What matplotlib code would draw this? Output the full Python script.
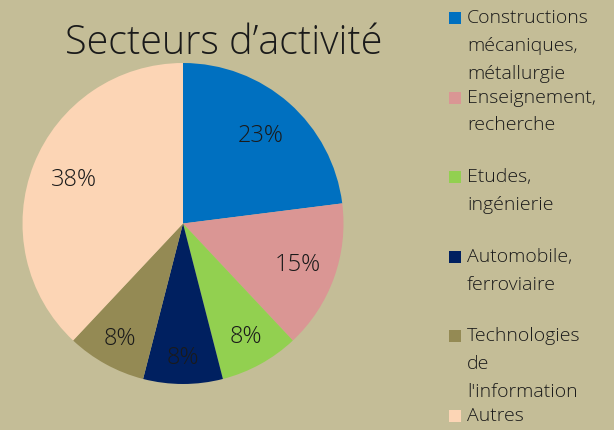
import matplotlib
matplotlib.use('Agg')
import numpy as np
import matplotlib.pyplot as plt
from matplotlib.patches import Rectangle

# Chart data
sectors = ['Constructions\nmécaniques,\nmétallurgie', 'Enseignement,\nrecherche',
           'Etudes,\ningénierie', 'Automobile,\nferroviaire',
           'Technologies\nde\nl\'information', 'Autres']
shares = [23, 15, 8, 8, 8, 38]
colors = ['#0070C0', '#DA9694', '#92D050', '#002060', '#948A54', '#FCD5B5']
title = 'Secteurs d\u2019activité'

# distance of each percent label from the centre (fraction of radius)
label_dist = [0.73, 0.76, 0.81, 0.84, 0.82, 0.73]

bg = '#C4BD97'
txt = '#1a1a1a'
plt.rcParams['font.family'] = ['Open Sans', 'DejaVu Sans']

fig = plt.figure(figsize=(6.14, 4.30), dpi=100)
fig.patch.set_facecolor(bg)

# pie axes: square box in pixels
W, H = 614, 430
cx, cy, r = 183, 223.5, 160.5
ax = fig.add_axes([(cx - r) / W, (H - cy - r) / H, 2 * r / W, 2 * r / H])
ax.set_facecolor(bg)
wedges, texts, autotexts = ax.pie(shares, colors=colors, startangle=90, counterclock=False,
                                  autopct='%d%%', pctdistance=0.75,
                                  wedgeprops=dict(linewidth=0),
                                  textprops=dict(fontsize=17, color=txt, fontweight='light'))
# move labels to their own distances
for w, t, d in zip(wedges, autotexts, label_dist):
    ang = np.deg2rad((w.theta1 + w.theta2) / 2)
    t.set_position((d * np.cos(ang), d * np.sin(ang)))
ax.set_xlim(-1, 1)
ax.set_ylim(-1, 1)
ax.axis('off')

fig.text(224 / W, 1 - 44 / H, title, ha='center', va='center', fontsize=28.5,
         color=txt, fontweight='light')

# legend drawn by hand
step = 79.6
for i, (lab, col) in enumerate(zip(sectors, colors)):
    y = 18 + step * i
    fig.patches.append(Rectangle((449 / W, 1 - (y + 6) / H), 12 / W, 12 / H,
                                 transform=fig.transFigure, facecolor=col, edgecolor='none'))
    fig.text(467 / W, 1 - (y - 9) / H, lab, ha='left', va='top', fontsize=14,
             color=txt, fontweight='light', linespacing=1.7)

fig.savefig('out.png', dpi=100, facecolor=bg)
